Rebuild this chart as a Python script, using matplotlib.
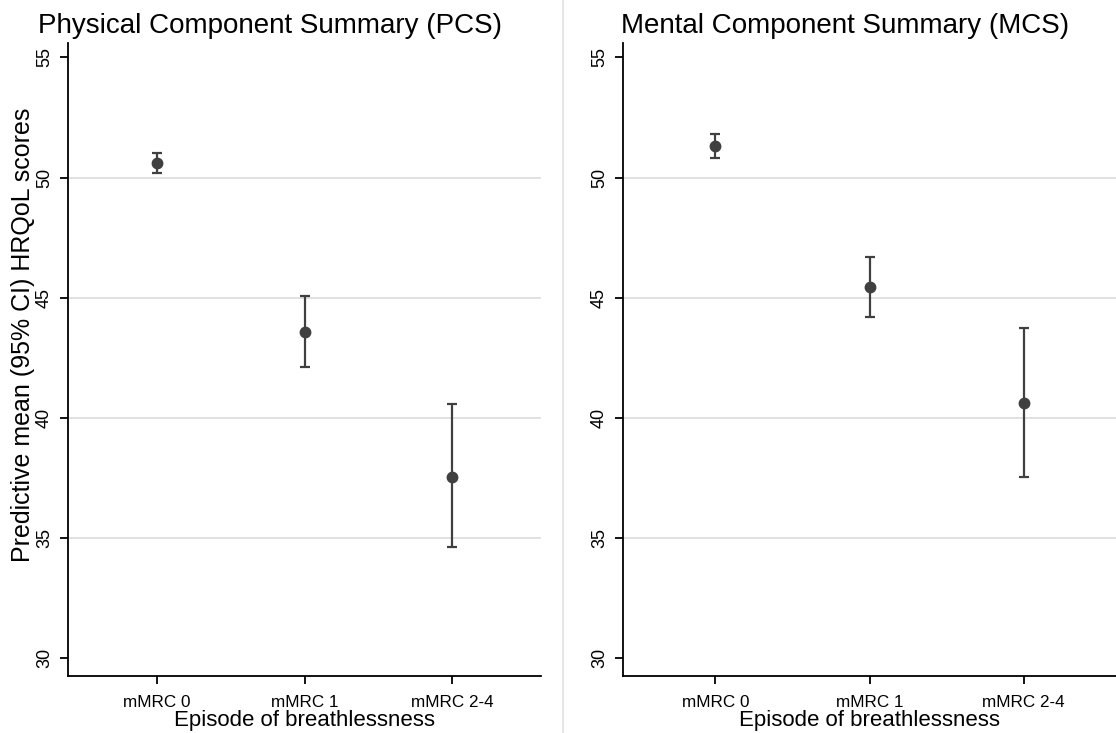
import numpy as np
import matplotlib
matplotlib.use("Agg")
from matplotlib import pyplot as plt

plt.rcParams["font.family"] = ["Liberation Sans", "DejaVu Sans"]

# %% data
categories = ["mMRC 0", "mMRC 1", "mMRC 2-4"]

pcs_mean = [50.60, 43.58, 37.53]
pcs_low = [50.18, 42.12, 34.60]
pcs_high = [51.04, 45.08, 40.56]

mcs_mean = [51.31, 45.44, 40.62]
mcs_low = [50.83, 44.18, 37.54]
mcs_high = [51.80, 46.71, 43.72]

titles = ["Physical Component Summary (PCS)", "Mental Component Summary (MCS)"]
y_ticks = [30, 35, 40, 45, 50, 55]

# %% plot
W, H = 1116, 733
fig = plt.figure(figsize=(W / 100, H / 100), dpi=100)

ax_left = fig.add_axes([68 / W, 1 - 676 / H, 473 / W, 633 / H])
ax_right = fig.add_axes([623 / W, 1 - 676 / H, 493 / W, 633 / H])

panels = [
    (ax_left, pcs_mean, pcs_low, pcs_high),
    (ax_right, mcs_mean, mcs_low, mcs_high),
]

dark = "#404040"
for ax, mean, low, high in panels:
    x = np.arange(1, len(categories) + 1)
    mean = np.array(mean)
    err = [mean - np.array(low), np.array(high) - mean]
    ax.errorbar(x, mean, yerr=err, fmt="o", color=dark, ecolor=dark,
                markersize=7.5, elinewidth=1.6, capsize=3.8, capthick=1.6,
                zorder=3)
    ax.set_xlim(0.4, 3.6)
    ax.set_ylim(29.25, 55.6)
    ax.set_xticks(x)
    ax.set_xticklabels(categories, fontsize=12.3)
    ax.set_yticks(y_ticks)
    ax.set_yticklabels([str(t) for t in y_ticks], fontsize=13, rotation=90,
                       va="center")
    for t in y_ticks[1:-1]:
        ax.axhline(t, color="#dcdcdc", linewidth=1.2, zorder=1)
    for side in ["top", "right"]:
        ax.spines[side].set_visible(False)
    for side in ["left", "bottom"]:
        ax.spines[side].set_linewidth(1.3)
    ax.tick_params(direction="out", length=5.8, width=1.3)
    ax.tick_params(axis="x", pad=8)
    ax.tick_params(axis="y", pad=5)
    ax.set_xlabel("Episode of breathlessness", fontsize=16, labelpad=0)

fig.text(23 / W, 1 - 335 / H, "Predictive mean (95% CI) HRQoL scores",
         fontsize=18, rotation=90, ha="center", va="center")

fig.text(38 / W, 1 - 33 / H, titles[0], fontsize=20, ha="left",
         va="baseline")
fig.text(621 / W, 1 - 33 / H, titles[1], fontsize=20, ha="left",
         va="baseline")

# light separator between the two panels
fig.add_artist(plt.Line2D([563 / W, 563 / W], [0, 1], color="#e6e6e6",
                          linewidth=1.5, transform=fig.transFigure))

fig.savefig("out.png", dpi=100)
